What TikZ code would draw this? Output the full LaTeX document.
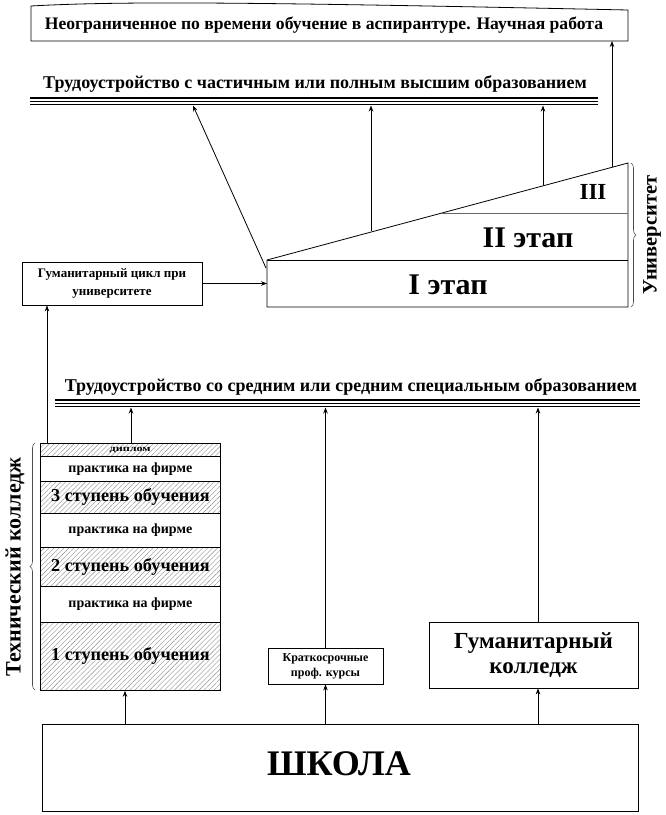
\documentclass[tikz,border=0pt]{standalone}
\usepackage{fontspec}
\setmainfont{Liberation Serif}
\usetikzlibrary{arrows.meta,patterns.meta,decorations.pathreplacing}
\newcommand\fz[2]{\fontsize{#1}{#2}\selectfont}
\begin{document}
\begin{tikzpicture}[x=1pt,y=-1pt,line width=0.8pt,
  arr/.style={-{Stealth[length=6pt,width=4.5pt]}},
  box/.style={draw,inner sep=0pt,align=center},
  lbl/.style={inner sep=0pt,align=center},
  hatch/.style={pattern={Lines[angle=45,distance=3.5pt,line width=0.4pt]},pattern color=black!45},
  row/.style={box,anchor=north west,minimum width=180pt},
  bar/.style={line width=#1},
  brc/.style={decorate,decoration={brace,amplitude=5pt},line width=0.6pt,draw=black!70}]
\useasboundingbox (0,0) rectangle (665,815);
\fill[white] (0,0) rectangle (665,815);

% top box
\draw (31,41) -- (31,6) .. controls (120,1) and (250,2) .. (628,10) -- (628,41) -- cycle;
\node[lbl] (top) at (324,25) {\fz{17.6}{19}\bfseries Неограниченное по времени обучение в аспирантуре. Научная работа};
\coordinate (topb) at (0,41);

% heading 1
\node[lbl] (h1) at (315,84) {\fz{18}{20}\bfseries Трудоустройство с частичным или полным высшим образованием};
\draw[bar=1.6pt] (30,98) -- (598,98);
\draw[bar=0.9pt] (30,101.5) -- (598,101.5);
\draw[bar=0.9pt] (30,104.5) -- (598,104.5);
\coordinate (bar1) at (0,105.5);

% university
\coordinate (u1) at (267,260);
\coordinate (u2) at (628,163);
\coordinate (u3) at (628,307);
\coordinate (u4) at (267,307);
\coordinate (u5) at (628,260);
\coordinate (u6) at (442,213);
\coordinate (u7) at (628,213);
\draw (u4) -- (u1) -- (u2) -- (u3) -- cycle;
\draw (u1) -- (u5);
\draw[draw=black!60] (u6) -- (u7);
\node[lbl] (e3) at (593,192) {\fz{23}{25}\bfseries III};
\node[lbl] (e2) at (528,238) {\fz{30}{32}\bfseries II этап};
\node[lbl] (e1) at (448,285) {\fz{30}{32}\bfseries I этап};
\draw[brc] (631,163) -- (631,307);
\node[lbl,rotate=90] (univ) at (652,235) {\fz{20.5}{22}\bfseries Университет};

% arrows from university
\coordinate (w1) at (371,230.6);
\coordinate (w2) at (543,185.4);
\coordinate (w3) at (612,167.2);
\coordinate (ws) at (266,268);
\coordinate (wt) at (193,105.5);
\draw[arr] (ws) -- (wt);
\draw[arr] (w1) -- (w1 |- bar1);
\draw[arr] (w2) -- (w2 |- bar1);
\draw[arr] (w3) -- (w3 |- topb);

% humanitarian cycle box
\node[box,minimum width=180pt,minimum height=43pt,font={\fz{13}{18}\bfseries}] (gc) at (112,283.5) {Гуманитарный цикл при\\университете};
\draw[arr] (gc.east) -- (gc.east -| u1);

% heading 2
\node[lbl] (h2) at (351,387) {\fz{18}{20}\bfseries Трудоустройство со средним или средним специальным образованием};
\draw[bar=1.6pt] (55,400) -- (640,400);
\draw[bar=0.9pt] (55,403.5) -- (640,403.5);
\draw[bar=0.9pt] (55,406.5) -- (640,406.5);
\coordinate (bar2) at (0,407.5);

% technical college
\node[row,hatch,minimum height=13pt] (dip) at (40,443) {\scalebox{1.35}[1]{\fz{9}{10}\bfseries диплом}};
\node[row,minimum height=25pt] (p1) at (40,456) {\fz{14}{16}\bfseries практика на фирме};
\node[row,hatch,minimum height=32pt] (st3) at (40,481) {\fz{18.2}{20}\bfseries 3 ступень обучения};
\node[row,minimum height=34pt] (p2) at (40,513) {\fz{14}{16}\bfseries практика на фирме};
\node[row,hatch,minimum height=39pt] (st2) at (40,547) {\fz{18.2}{20}\bfseries 2 ступень обучения};
\node[row,minimum height=36pt] (p3) at (40,586) {\fz{14}{16}\bfseries практика на фирме};
\node[row,hatch,minimum height=68pt] (st1) at (40,622) {\raisebox{4pt}{\fz{18.2}{20}\bfseries 1 ступень обучения}};
\draw[brc] (35,690) -- (35,443);
\node[lbl,rotate=90] (tech) at (15,567) {\fz{22}{24}\bfseries Технический колледж};

\coordinate (xg) at (47,0);
\draw[arr] (xg |- dip.north) -- (xg |- gc.south);
\coordinate (xt) at (131,0);
\draw[arr] (xt |- dip.north) -- (xt |- bar2);

% short courses
\node[box,minimum width=115pt,minimum height=36pt,font={\fz{12}{15}\bfseries}] (kk) at (325.5,666) {Краткосрочные\\проф. курсы};
\draw[arr] (kk.north) -- (kk.north |- bar2);

% humanitarian college
\node[box,minimum width=209pt,minimum height=66pt,font={\fz{23}{25}\bfseries}] (hc) at (533.5,655) {Гуманитарный\\колледж};
\coordinate (xh) at (538,0);
\draw[arr] (xh |- hc.north) -- (xh |- bar2);

% school
\node[box,minimum width=596pt,minimum height=87pt] (school) at (340,767.5) {};
\node[lbl] (shk) at (339,764) {\fz{36}{40}\bfseries ШКОЛА};
\coordinate (xs1) at (125,0);
\draw[arr] (xs1 |- school.north) -- (xs1 |- st1.south);
\draw[arr] (kk.south |- school.north) -- (kk.south);
\draw[arr] (xh |- school.north) -- (xh |- hc.south);
\end{tikzpicture}
\end{document}
